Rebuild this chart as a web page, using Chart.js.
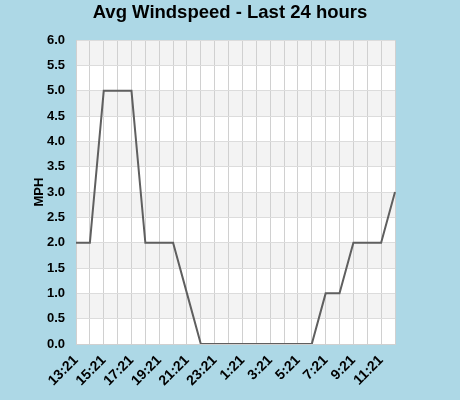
<!DOCTYPE html>
<html>
<head>
<meta charset="utf-8">
<title>Avg Windspeed</title>
<script src="https://cdn.jsdelivr.net/npm/chart.js@4/dist/chart.umd.min.js"></script>
<style>
    html, body { margin: 0; padding: 0; background: #add8e6; }
    #wrap { width: 460px; height: 400px; }
</style>
</head>
<body>
<div id="wrap"><canvas id="windChart" width="460" height="400"></canvas></div>
<script>
// hourly readings, last 24 hours
const hours = ['13:21', '14:21', '15:21', '16:21', '17:21', '18:21', '19:21', '20:21',
    '21:21', '22:21', '23:21', '0:21', '1:21', '2:21', '3:21', '4:21', '5:21', '6:21',
    '7:21', '8:21', '9:21', '10:21', '11:21', '12:21'];
const windMph = [2.0, 2.0, 5.0, 5.0, 5.0, 2.0, 2.0, 2.0, 1.0, 0.0, 0.0, 0.0, 0.0, 0.0,
    0.0, 0.0, 0.0, 0.0, 1.0, 1.0, 2.0, 2.0, 2.0, 3.0];
const yTicks = [0, 0.5, 1, 1.5, 2, 2.5, 3, 3.5, 4, 4.5, 5, 5.5, 6];

const FONT = '"Liberation Sans", Arial, sans-serif';

// white plot area with alternating grey bands
const bandPlugin = {
    id: 'bands',
    beforeDraw(chart) {
        const ctx = chart.ctx;
        const area = chart.chartArea;
        const y = chart.scales.y;
        ctx.save();
        ctx.fillStyle = '#ffffff';
        ctx.fillRect(area.left, area.top, area.right - area.left, area.bottom - area.top);
        ctx.fillStyle = '#f3f3f3';
        for (let i = 0; i < yTicks.length - 1; i++) {
            if (Number.isInteger(yTicks[i + 1])) {
                const top = y.getPixelForValue(yTicks[i + 1]);
                const bottom = y.getPixelForValue(yTicks[i]);
                ctx.fillRect(area.left, top, area.right - area.left, bottom - top);
            }
        }
        ctx.restore();
    }
};

const ctx = document.getElementById('windChart').getContext('2d');
new Chart(ctx, {
    type: 'line',
    data: {
        labels: hours,
        datasets: [{
            label: 'Avg Windspeed',
            data: windMph,
            borderColor: '#5f5f5f',
            borderWidth: 2,
            pointRadius: 0,
            tension: 0,
            fill: false
        }]
    },
    options: {
        responsive: false,
        animation: false,
        layout: { padding: 0 },
        plugins: {
            legend: { display: false },
            tooltip: { enabled: false },
            title: {
                display: true,
                text: 'Avg Windspeed - Last 24 hours',
                color: '#000',
                font: { family: FONT, size: 18.5, weight: 'bold' },
                padding: { top: 2, bottom: 16 }
            }
        },
        scales: {
            x: {
                grid: { color: '#d0d0d0', lineWidth: 1, drawTicks: false },
                border: { color: '#d0d0d0' },
                ticks: {
                    autoSkip: false,
                    maxRotation: 45,
                    minRotation: 45,
                    padding: 8,
                    color: '#000',
                    font: { family: FONT, size: 14, weight: 'bold' },
                    callback: function(val, i) { return i % 2 === 0 ? hours[i] : ''; }
                },
                afterFit: function(scale) { scale.height = 56; }
            },
            y: {
                min: 0,
                max: 6,
                grid: { color: '#dcdcdc', lineWidth: 1, drawTicks: false },
                border: { color: '#d0d0d0' },
                title: {
                    display: true,
                    text: 'MPH',
                    color: '#000',
                    font: { family: FONT, size: 13, weight: 'bold' },
                    padding: { top: 32, bottom: 0 }
                },
                ticks: {
                    stepSize: 0.5,
                    padding: 11,
                    color: '#000',
                    font: { family: FONT, size: 13, weight: 'bold' },
                    callback: function(v) { return v.toFixed(1); }
                },
                afterFit: function(scale) { scale.width = 76; }
            },
            // empty right margin so the title stays centred on the canvas
            yRight: {
                position: 'right',
                min: 0,
                max: 6,
                grid: { display: false },
                border: { display: false },
                ticks: { display: false },
                afterFit: function(scale) { scale.width = 65; }
            }
        }
    },
    plugins: [bandPlugin]
});
</script>
</body>
</html>
